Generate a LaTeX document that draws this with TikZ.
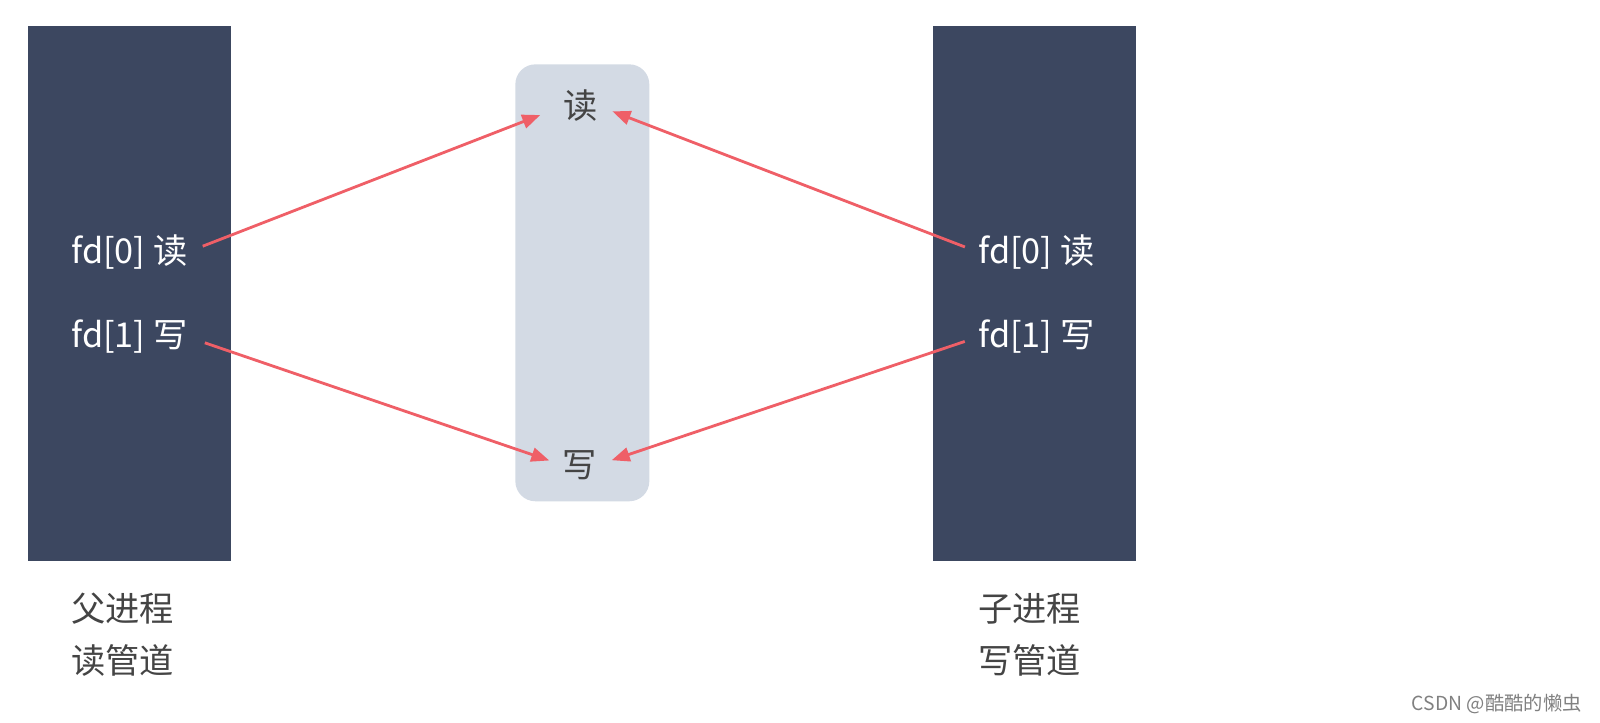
\documentclass[tikz,border=0pt]{standalone}
\usepackage{fontspec}
\setmainfont{Noto Sans CJK SC}
\usetikzlibrary{arrows.meta, positioning}
\definecolor{barblue}{HTML}{3C4760}
\definecolor{pipegray}{HTML}{D3DAE4}
\definecolor{arrowred}{HTML}{EF5F67}
\definecolor{labelgray}{HTML}{444444}

\begin{document}
\begin{tikzpicture}[x=0.02cm, y=-0.02cm,
    bar/.style={rectangle, fill=barblue, minimum width=4.06cm, minimum height=10.71cm,
                inner sep=0pt, anchor=north west},
    pipebox/.style={rectangle, rounded corners=0.4cm, fill=pipegray, minimum width=2.68cm,
                    minimum height=8.74cm, inner sep=0pt, anchor=north west},
    fdtext/.style={anchor=west, inner sep=0pt, text=white, font=\fontsize{19.5}{23}\selectfont},
    endtext/.style={inner sep=0pt, text=labelgray, font=\fontsize{19.5}{23}\selectfont},
    proclabel/.style={anchor=north west, inner sep=0pt, align=left, text=labelgray,
                      font=\fontsize{19.5}{29.5}\selectfont},
    arr/.style={-{Triangle[length=0.36cm, width=0.28cm]}, arrowred, line width=1.6pt}
  ]
  \useasboundingbox (0,0) rectangle (1600,723);

  \node[bar] (parent) at (27.5,25.5) {};
  \node[bar] (child) at (933,25.5) {};
  \node[pipebox] (pipe) at (515,64) {};

  \node[fdtext] (pr) at (71,252) {fd[0] 读};
  \node[fdtext] (pw) at (71,337) {fd[1] 写};
  \node[fdtext] (cr) at (978,252) {fd[0] 读};
  \node[fdtext] (cw) at (978,337) {fd[1] 写};

  \node[endtext] (rd) at (581,106) {读};
  \node[endtext] (wr) at (580,465) {写};

  \draw[arr, shorten <=0.32cm, shorten >=0.5cm] (pr.east) -- (rd.west);
  \draw[arr, shorten <=0.28cm, shorten >=0.3cm] (cr.west) -- (rd.east);
  \draw[arr, shorten <=0.36cm, shorten >=0.28cm] (pw.east) -- (wr.west);
  \draw[arr, shorten <=0.28cm, shorten >=0.3cm] (cw.west) -- (wr.east);

  % labels under the bars
  \node[proclabel] (pnote) at (71,593) {父进程\\读管道};
  \node[proclabel] (cnote) at (978,593) {子进程\\写管道};

  \node[anchor=east, inner sep=0pt, text=gray, font=\fontsize{11}{13}\selectfont] (wm) at (1582,704) {CSDN @酷酷的懒虫};
\end{tikzpicture}
\end{document}
